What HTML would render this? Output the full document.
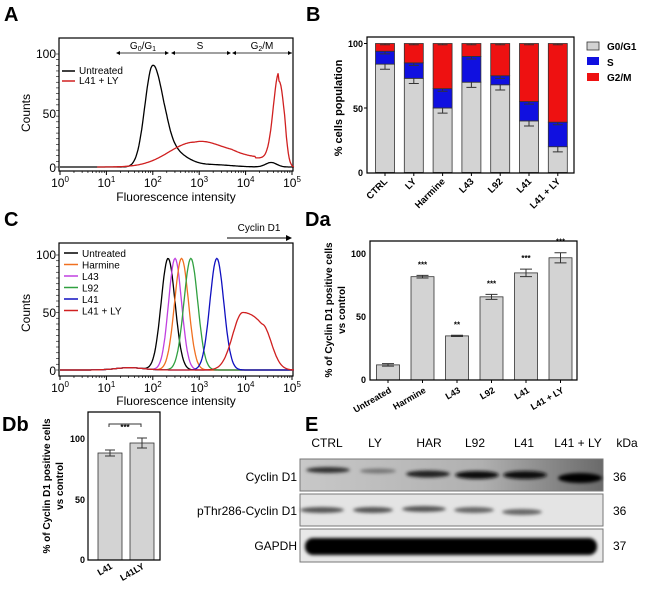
<!DOCTYPE html>
<html><head><meta charset="utf-8">
<style>
body{margin:0;background:#fff;}
svg{font-family:"Liberation Sans",Arial,sans-serif;display:block}
</style></head><body>
<svg id="s" width="650" height="592" viewBox="0 0 650 592" xmlns="http://www.w3.org/2000/svg">
<rect width="650" height="592" fill="#fff"/>
<text x="4" y="21" font-size="20" font-weight="bold">A</text>
<text x="306" y="21" font-size="20" font-weight="bold">B</text>
<text x="4" y="226" font-size="20" font-weight="bold">C</text>
<text x="305" y="226" font-size="20" font-weight="bold">Da</text>
<text x="2" y="431" font-size="20" font-weight="bold">Db</text>
<text x="305" y="431" font-size="20" font-weight="bold">E</text>

<g id="A">
<rect x="59" y="38" width="234" height="133" fill="none" stroke="#000" stroke-width="1.2"/>
<g font-size="12" text-anchor="end"><text x="56" y="58">100</text><text x="56" y="118">50</text><text x="56" y="172">0</text></g>
<text transform="translate(30,113) rotate(-90)" font-size="12" text-anchor="middle">Counts</text>
<text x="176" y="201" font-size="12" text-anchor="middle">Fluorescence intensity</text>
<g stroke="#000" stroke-width="0.8">
<line x1="117" y1="53" x2="168" y2="53"/><line x1="172" y1="53" x2="230" y2="53"/><line x1="233" y1="53" x2="292" y2="53"/>
</g>
<g fill="#000">
<path d="M116,53 l4,-2 v4z"/><path d="M169,53 l-4,-2 v4z"/><path d="M171,53 l4,-2 v4z"/><path d="M231,53 l-4,-2 v4z"/><path d="M232,53 l4,-2 v4z"/><path d="M292,53 l-4,-2 v4z"/>
</g>
<g font-size="10" text-anchor="middle"><text x="143" y="49">G<tspan font-size="7" dy="2">0</tspan><tspan dy="-2">/G</tspan><tspan font-size="7" dy="2">1</tspan></text><text x="200" y="49">S</text><text x="262" y="49">G<tspan font-size="7" dy="2">2</tspan><tspan dy="-2">/M</tspan></text></g>
<line x1="62" y1="71" x2="75" y2="71" stroke="#000" stroke-width="1.5"/><text x="79" y="74" font-size="10">Untreated</text>
<line x1="62" y1="81" x2="75" y2="81" stroke="#d02020" stroke-width="1.5"/><text x="79" y="84" font-size="10">L41 + LY</text>
<path id="pA1" fill="none" stroke="#000" stroke-width="1.3"/>
<path id="pA2" fill="none" stroke="#d02020" stroke-width="1.3"/>
</g>

<g id="B">
<g id="Bbars"></g>
<path d="M367,37 V173 H574 V37 Z" fill="none" stroke="#000" stroke-width="1.2"/>
<g font-size="9" font-weight="bold" text-anchor="end"><text x="363" y="47">100</text><text x="363" y="112">50</text><text x="363" y="176">0</text></g>
<g stroke="#000"><line x1="364" y1="43.5" x2="367" y2="43.5"/><line x1="364" y1="108" x2="367" y2="108"/></g>
<text transform="translate(342,108) rotate(-90)" font-size="11" font-weight="bold" text-anchor="middle">% cells population</text>
<g font-size="10" font-weight="bold">
<rect x="587" y="42" width="12" height="8" fill="#d3d3d3" stroke="#333" stroke-width="0.8"/><text x="607" y="50">G0/G1</text>
<rect x="587" y="57" width="12" height="8" fill="#1010e0"/><text x="607" y="66">S</text>
<rect x="587" y="73" width="12" height="8" fill="#ee1111"/><text x="607" y="81">G2/M</text>
</g>
<g id="Blab" font-size="9.5" font-weight="bold" text-anchor="end"></g>
</g>

<g id="C">
<rect x="59" y="243" width="234" height="133" fill="none" stroke="#000" stroke-width="1.2"/>
<g font-size="12" text-anchor="end"><text x="56" y="259">100</text><text x="56" y="317">50</text><text x="56" y="375">0</text></g>
<text transform="translate(30,313) rotate(-90)" font-size="12" text-anchor="middle">Counts</text>
<text x="176" y="405" font-size="12" text-anchor="middle">Fluorescence intensity</text>
<line x1="227" y1="238" x2="289" y2="238" stroke="#000" stroke-width="1"/><path d="M292,238 l-6,-3 v6 z"/>
<text x="259" y="231" font-size="10" text-anchor="middle">Cyclin D1</text>
<g id="Cleg" font-size="10"></g>
<g id="Ccurves"></g>
</g>

<g id="Da">
<g id="Dabars"></g>
<path d="M370,241 V380 H577 V241 Z" fill="none" stroke="#000" stroke-width="1.2"/>
<g font-size="9" font-weight="bold" text-anchor="end"><text x="366" y="257">100</text><text x="366" y="320">50</text><text x="366" y="383">0</text></g>
<text transform="translate(332,310) rotate(-90)" font-size="10" font-weight="bold" text-anchor="middle">% of Cyclin D1 positive cells</text>
<text transform="translate(345,310) rotate(-90)" font-size="10" font-weight="bold" text-anchor="middle">vs control</text>
<g id="Dalab" font-size="9" font-weight="bold" text-anchor="end"></g>
</g>

<g id="Db">
<rect x="98" y="453" width="24" height="107" fill="#d3d3d3" stroke="#333" stroke-width="0.8"/>
<rect x="130" y="443" width="24" height="117" fill="#d3d3d3" stroke="#333" stroke-width="0.8"/>
<g stroke="#333" stroke-width="1" fill="none">
<path d="M110,450 V456 M105,450 H115 M105,456 H115"/>
<path d="M142,438 V448 M137,438 H147 M137,448 H147"/>
<path d="M109,427 V424 H141 V427"/>
</g>
<text x="125" y="430" font-size="8" font-weight="bold" text-anchor="middle">***</text>
<path d="M88,412 V560 H160 V412 Z" fill="none" stroke="#000" stroke-width="1.2"/>
<g font-size="9" font-weight="bold" text-anchor="end"><text x="85" y="442">100</text><text x="85" y="503">50</text><text x="85" y="563">0</text></g>
<text transform="translate(50,486) rotate(-90)" font-size="10" font-weight="bold" text-anchor="middle">% of Cyclin D1 positive cells</text>
<text transform="translate(63,486) rotate(-90)" font-size="10" font-weight="bold" text-anchor="middle">vs control</text>
<g font-size="9" font-weight="bold" text-anchor="end">
<text transform="translate(113,568) rotate(-30)">L41</text>
<text transform="translate(145,568) rotate(-30)">L41LY</text>
</g>
</g>

<g id="E">
<g font-size="12" text-anchor="middle">
<text x="327" y="447">CTRL</text><text x="375" y="447">LY</text><text x="429" y="447">HAR</text><text x="475" y="447">L92</text><text x="524" y="447">L41</text><text x="578" y="447">L41 + LY</text><text x="627" y="447">kDa</text>
</g>
<g font-size="12" text-anchor="end">
<text x="297" y="481">Cyclin D1</text><text x="297" y="515">pThr286-Cyclin D1</text><text x="297" y="550">GAPDH</text>
</g>
<g font-size="12"><text x="613" y="481">36</text><text x="613" y="515">36</text><text x="613" y="550">37</text></g>
<defs>
<linearGradient id="g1" x1="0" x2="1"><stop offset="0" stop-color="#c8c8c8"/><stop offset="0.6" stop-color="#b0b0b0"/><stop offset="1" stop-color="#6a6a6a"/></linearGradient>
<filter id="bl"><feGaussianBlur stdDeviation="1.6"/></filter>
</defs>
<rect x="300" y="459" width="303" height="32" fill="url(#g1)" stroke="#777"/>
<rect x="300" y="494" width="303" height="32" fill="#e4e4e4" stroke="#777"/>
<rect x="300" y="529" width="303" height="33" fill="#e8e8e8" stroke="#777"/>
<g filter="url(#bl)">
<ellipse cx="328" cy="470" rx="22" ry="3" fill="#333"/>
<ellipse cx="378" cy="471" rx="18" ry="2.5" fill="#777"/>
<ellipse cx="428" cy="474" rx="22" ry="3.5" fill="#222"/>
<ellipse cx="477" cy="475" rx="22" ry="4" fill="#111"/>
<ellipse cx="525" cy="475" rx="22" ry="4" fill="#111"/>
<ellipse cx="580" cy="478" rx="22" ry="5" fill="#000"/>
<ellipse cx="322" cy="510" rx="22" ry="3" fill="#555"/>
<ellipse cx="373" cy="510" rx="20" ry="3" fill="#555"/>
<ellipse cx="424" cy="509" rx="22" ry="3" fill="#555"/>
<ellipse cx="474" cy="510" rx="20" ry="3" fill="#666"/>
<ellipse cx="522" cy="512" rx="20" ry="3" fill="#666"/>
<rect x="305" y="538" width="292" height="17" rx="8" fill="#000"/>
</g>
</g>

<script>
(function(){
var NS="http://www.w3.org/2000/svg";
function el(p,t,a,txt){var e=document.createElementNS(NS,t);for(var k in a)e.setAttribute(k,a[k]);if(txt!=null)e.textContent=txt;p.appendChild(e);return e;}
function g(l,m,s){return Math.exp(-0.5*Math.pow((l-m)/s,2));}
function path(f,X,Y,lo,hi){var d="";for(var l=lo;l<=hi+1e-9;l+=0.02){var v=Math.max(0,f(l));d+=(d?"L":"M")+X(l).toFixed(1)+","+Y(v).toFixed(1);}return d;}
var X=function(l){return 60+46.4*l;};
function axes(y0,parent){
 for(var dcd=0;dcd<=5;dcd++){
  var x=X(dcd);el(parent,"line",{x1:x,y1:y0,x2:x,y2:y0+4,stroke:"#000"});
  var t=el(parent,"text",{x:x,y:y0+16,"font-size":12,"text-anchor":"middle"},"10");
  el(t,"tspan",{"font-size":8,dy:-5},String(dcd));
  if(dcd<5)for(var k=2;k<10;k++){var xx=X(dcd+Math.log10(k));el(parent,"line",{x1:xx,y1:y0,x2:xx,y2:y0+2,stroke:"#000","stroke-width":0.7});}
 }
}
var s=document.getElementById("s");
axes(171,s);axes(376,s);
for(var i=0;i<=20;i++){var y=167-i*5*1.13;el(s,"line",{x1:56,y1:y,x2:59,y2:y,stroke:"#000","stroke-width":0.6});
 var y2=370-i*5*1.15;el(s,"line",{x1:56,y1:y2,x2:59,y2:y2,stroke:"#000","stroke-width":0.6});}
var YA=function(v){return 167-1.13*v;};
document.getElementById("pA1").setAttribute("d",path(function(l){return 90*(l<2?g(l,2,0.17):g(l,2,0.22))+(l>2?12*g(l,2.45,0.3)*Math.min(1,(l-2)/0.3):0)+2*g(l,3.3,0.4)+4*g(l,4.55,0.12);},X,YA,0,5.05));
document.getElementById("pA2").setAttribute("d",path(function(l){var v=22*g(l,2.9,0.55);if(l>2.9)v=22*g(l,2.9,0.55)+(l<4.2?8*Math.min(1,(l-2.9)/0.8):0);if(l>3.8&&l<4.7)v=Math.max(v,8);v+=76*g(l,4.72,0.12);if(l>4.85)v*=Math.max(0,(5.05-l)/0.2);return v;},X,YA,0.8,5.05));
var YC=function(v){return 370-1.15*v;};
var cc=document.getElementById("Ccurves");
var cur=[["#000",2.33,0.15,97],["#c040e0",2.48,0.14,97],["#f07020",2.62,0.15,97],["#30a040",2.82,0.15,97],["#1010c0",3.38,0.15,97]];
cur.forEach(function(c){el(cc,"path",{d:path(function(l){return c[3]*g(l,c[1],c[2])+2*g(l,1.5,0.3);},X,YC,0,5.05),fill:"none",stroke:c[0],"stroke-width":1.3});});
el(cc,"path",{d:path(function(l){return (l<3.94?50*g(l,3.94,0.22):(l<4.35?50-25*Math.pow((l-3.94)/0.41,2)*0.4:40*g(l,4.35,0.2)))+2*g(l,1.5,0.3);},X,YC,0,5.05),fill:"none",stroke:"#d02020","stroke-width":1.3});
var lg=document.getElementById("Cleg");
[["#000","Untreated"],["#f07020","Harmine"],["#c040e0","L43"],["#30a040","L92"],["#1010c0","L41"],["#d02020","L41 + LY"]].forEach(function(c,i){var y=253+i*11.5;el(lg,"line",{x1:64,y1:y,x2:78,y2:y,stroke:c[0],"stroke-width":1.5});el(lg,"text",{x:82,y:y+4},c[1]);});
var bb=document.getElementById("Bbars"),bl=document.getElementById("Blab");
var YB=function(v){return 172.5-1.29*v;};
var B=[["CTRL",84,94],["LY",73,85],["Harmine",50,65],["L43",70,90],["L92",68,75],["L41",40,55],["L41 + LY",20,39]];
B.forEach(function(b,i){var cx=385+i*28.8,x=cx-9.5;
 el(bb,"rect",{x:x,y:YB(b[1]),width:19,height:YB(0)-YB(b[1]),fill:"#d3d3d3",stroke:"#333","stroke-width":0.8});
 el(bb,"rect",{x:x,y:YB(b[2]),width:19,height:YB(b[1])-YB(b[2]),fill:"#1010e0",stroke:"#333","stroke-width":0.8});
 el(bb,"rect",{x:x,y:YB(100),width:19,height:YB(b[2])-YB(100),fill:"#ee1111",stroke:"#333","stroke-width":0.8});
 [[b[1],4],[b[2],2],[100,1]].forEach(function(e){el(bb,"path",{d:"M"+(cx-5)+","+YB(e[0]-e[1])+"H"+(cx+5)+"M"+cx+","+YB(e[0]-e[1])+"V"+YB(e[0]),stroke:"#333",fill:"none"});});
 el(bb,"line",{x1:cx,y1:173,x2:cx,y2:176,stroke:"#000"});
 el(bl,"text",{transform:"translate("+(cx+3)+",182) rotate(-45)"},b[0]);
});
var db=document.getElementById("Dabars"),dl=document.getElementById("Dalab");
var YD=function(v){return 380-1.26*v;};
var D=[["Untreated",12,1,""],["Harmine",82,1,"***"],["L43",35,0.5,"**"],["L92",66,2,"***"],["L41",85,3,"***"],["L41 + LY",97,4,"***"]];
D.forEach(function(d,i){var cx=388+i*34.5;
 el(db,"rect",{x:cx-11.5,y:YD(d[1]),width:23,height:YD(0)-YD(d[1]),fill:"#d3d3d3",stroke:"#333","stroke-width":0.8});
 var a=YD(d[1]+d[2]),b=YD(d[1]-d[2]);
 el(db,"path",{d:"M"+(cx-6)+","+a+"H"+(cx+6)+"M"+(cx-6)+","+b+"H"+(cx+6)+"M"+cx+","+a+"V"+b,stroke:"#333",fill:"none"});
 if(d[3])el(db,"text",{x:cx,y:a-8,"font-size":8,"font-weight":"bold","text-anchor":"middle"},d[3]);
 el(db,"line",{x1:cx,y1:380,x2:cx,y2:383,stroke:"#000"});
 el(dl,"text",{transform:"translate("+(cx+4)+",392) rotate(-30)"},d[0]);
});
})();
</script>
</svg>
</body></html>
